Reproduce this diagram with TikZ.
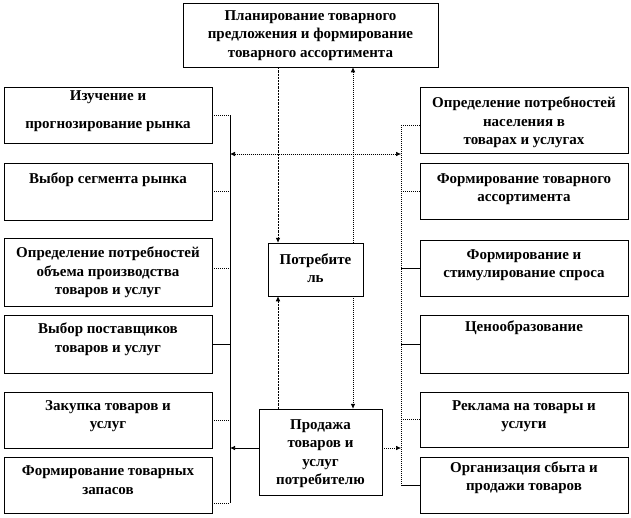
\documentclass[tikz,border=0pt]{standalone}
\usepackage{fontspec}
\setmainfont{Liberation Serif}
\usetikzlibrary{arrows.meta,shadows,backgrounds}
\begin{document}
\begin{tikzpicture}[x=1pt,y=-1pt,
 box/.style={draw=black, line width=0.5pt, fill=white, inner sep=0pt,
   drop shadow={shadow xshift=1.3pt,shadow yshift=-1.3pt,fill=gray!70,opacity=1}},
 txt/.style={font=\fontsize{15}{18.5}\selectfont\bfseries, align=center, inner sep=0pt},
 dotl/.style={line width=0.6pt, dash pattern=on 1pt off 1pt},
 dashl/.style={line width=0.6pt, dash pattern=on 2.2pt off 1pt},
 solidl/.style={line width=0.7pt},
 tip/.style={-{Latex[length=5pt,width=4.5pt]}},
 tips/.style={{Latex[length=5pt,width=4.5pt]}-{Latex[length=5pt,width=4.5pt]}},
]
\useasboundingbox (0,0) rectangle (631,517);

% boxes
\node[box, minimum width=255pt, minimum height=64pt] (top) at (310.5,35) {};
\node[box, minimum width=208pt, minimum height=56pt] (L1) at (108,115) {};
\node[box, minimum width=208pt, minimum height=57pt] (L2) at (108,191.5) {};
\node[box, minimum width=208pt, minimum height=68pt] (L3) at (108,272) {};
\node[box, minimum width=208pt, minimum height=58pt] (L4) at (108,344) {};
\node[box, minimum width=208pt, minimum height=56pt] (L5) at (108,420) {};
\node[box, minimum width=208pt, minimum height=56pt] (L6) at (108,485) {};
\node[box, minimum width=208pt, minimum height=66pt] (R1) at (524,120) {};
\node[box, minimum width=208pt, minimum height=56pt] (R2) at (524,191) {};
\node[box, minimum width=208pt, minimum height=56pt] (R3) at (524,268) {};
\node[box, minimum width=208pt, minimum height=58pt] (R4) at (524,344) {};
\node[box, minimum width=208pt, minimum height=55pt] (R5) at (524,419.5) {};
\node[box, minimum width=208pt, minimum height=56pt] (R6) at (524,485) {};
\node[box, minimum width=95pt, minimum height=53pt] (cons) at (315.5,269.5) {};
\node[box, minimum width=123pt, minimum height=86pt] (sale) at (320.5,452) {};

% texts
\node[txt] (topt) at (310.5,35.5) {Планирование товарного\\предложения и формирование\\товарного ассортимента};
\node[txt] (L1t) at (108,111) {Изучение и\\[9.5pt]прогнозирование рынка};
\node[txt] (L2t) at (108,180) {Выбор сегмента рынка};
\node[txt] (L3t) at (108,272.5) {Определение потребностей\\объема производства\\товаров и услуг};
\node[txt] (L4t) at (108,339) {Выбор поставщиков\\товаров и услуг};
\node[txt] (L5t) at (108,416) {Закупка товаров и\\услуг};
\node[txt] (L6t) at (108,480) {Формирование товарных\\запасов};
\node[txt] (R1t) at (524,122.5) {Определение потребностей\\населения в\\товарах и услугах};
\node[txt] (R2t) at (524,189) {Формирование товарного\\ассортимента};
\node[txt] (R3t) at (524,265) {Формирование и\\стимулирование спроса};
\node[txt] (R4t) at (524,328) {Ценообразование};
\node[txt] (R5t) at (524,416) {Реклама на товары и\\услуги};
\node[txt] (R6t) at (524,477.5) {Организация сбыта и\\продажи товаров};
\node[txt] (const) at (315.5,268) {Потребите\\ль};
\node[txt] (salet) at (320.5,453.5) {Продажа\\товаров и\\услуг\\потребителю};

% helper coordinates
\coordinate (lbus) at (230,0);
\coordinate (rbus) at (401,0);
\coordinate (c1) at (278,0);
\coordinate (c2) at (353,0);
\coordinate (h1) at (0,154);

\begin{pgfonlayer}{background}
% left bus
\draw[solidl] (L1.east -| lbus) -- ([yshift=-18pt]L6.east -| lbus);
\draw[dotl] (L1.east) -- (L1.east -| lbus);
\draw[dotl] (L2.east) -- (L2.east -| lbus);
\draw[dotl] ([yshift=4pt]L3.east) -- ([yshift=4pt]L3.east -| lbus);
\draw[solidl] (L4.east) -- (L4.east -| lbus);
\draw[dotl] (L5.east) -- (L5.east -| lbus);
\draw[dotl] ([yshift=-18pt]L6.east) -- ([yshift=-18pt]L6.east -| lbus);
% right bus
\draw[dotl] ([yshift=-5pt]R1.west -| rbus) -- (R6.west -| rbus);
\draw[dotl] ([yshift=-5pt]R1.west) -- ([yshift=-5pt]R1.west -| rbus);
\draw[dotl] (R2.west) -- (R2.west -| rbus);
\draw[solidl] (R3.west) -- (R3.west -| rbus);
\draw[solidl] (R4.west) -- (R4.west -| rbus);
\draw[dotl] (R5.west) -- (R5.west -| rbus);
\draw[solidl] (R6.west) -- (R6.west -| rbus);
% center connectors
\draw[dashl, tip] (top.south -| c1) -- (cons.north -| c1);
\draw[dashl, tip] (sale.north -| c1) -- (cons.south -| c1);
\draw[dotl, tips] (top.south -| c2) -- (sale.north -| c2);
\draw[dotl, tips] (lbus |- h1) -- (rbus |- h1);
\draw[solidl, tip] ([yshift=4pt]sale.west) -- ([yshift=4pt]sale.west -| lbus);
\draw[dotl, tip] ([yshift=4pt]sale.east) -- ([yshift=4pt]sale.east -| rbus);
\end{pgfonlayer}
\end{tikzpicture}
\end{document}
